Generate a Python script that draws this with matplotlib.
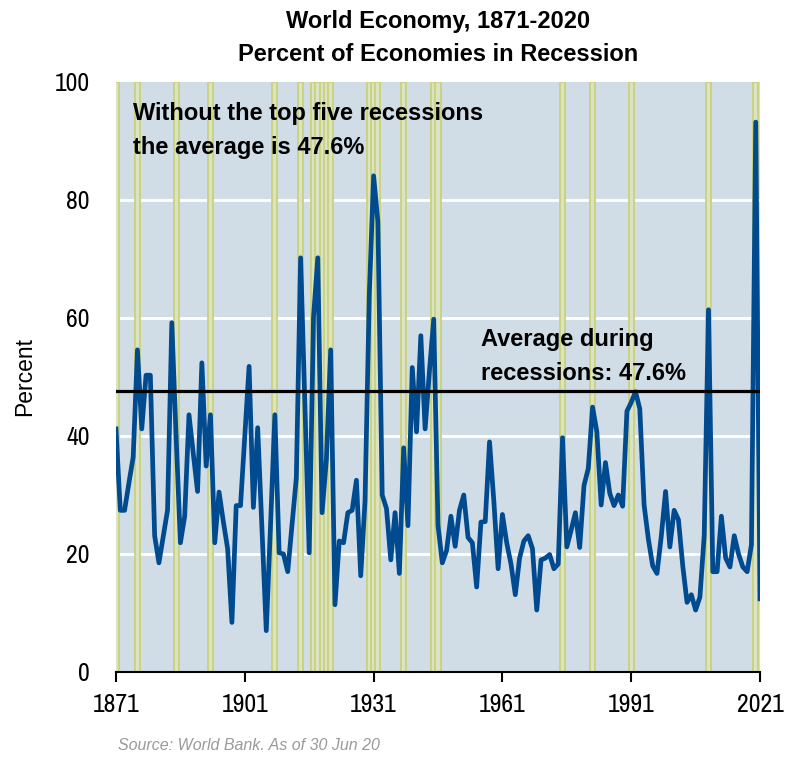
import matplotlib
matplotlib.use("Agg")
import matplotlib.pyplot as plt
import numpy as np

plt.rcParams['font.family'] = ['Liberation Sans', 'DejaVu Sans']
NARROW = ['Archivo Narrow', 'Liberation Sans', 'DejaVu Sans']

# Share of economies in recession, 1871-2021 (percent)
years = np.arange(1871, 2022)
pct_in_recession = [
    41.2, 27.4, 27.4, 32.0, 36.4, 54.6, 41.2, 50.3, 50.3, 23.1,   # 1871-1880
    18.5, 23.0, 27.4, 59.2, 40.0, 21.9, 26.4, 43.6, 37.0, 30.6,   # 1881-1890
    52.4, 34.9, 43.6, 21.9, 30.5, 25.5, 20.9, 8.4, 28.2, 28.2,    # 1891-1900
    40.0, 51.8, 27.9, 41.4, 24.0, 7.0, 25.0, 43.6, 20.2, 20.0,    # 1901-1910
    17.0, 25.0, 32.9, 70.2, 45.0, 20.2, 60.1, 70.2, 27.0, 36.0,   # 1911-1920
    54.6, 11.4, 22.2, 21.9, 27.0, 27.4, 32.5, 16.3, 29.0, 64.0,   # 1921-1930
    84.1, 76.3, 30.0, 27.7, 19.0, 27.0, 16.7, 38.0, 24.8, 51.6,   # 1931-1940
    40.7, 57.0, 41.2, 51.0, 59.8, 24.8, 18.5, 20.6, 26.4, 21.3,   # 1941-1950
    27.4, 30.0, 22.8, 21.9, 14.4, 25.4, 25.5, 39.0, 29.0, 17.5,   # 1951-1960
    26.7, 21.9, 18.3, 13.1, 19.3, 22.2, 23.1, 20.9, 10.5, 19.0,   # 1961-1970
    19.3, 19.9, 17.5, 18.3, 39.7, 21.2, 24.0, 27.0, 21.1, 31.6,   # 1971-1980
    34.5, 44.9, 40.7, 28.3, 35.5, 30.3, 28.2, 30.0, 28.1, 44.2,   # 1981-1990
    45.7, 47.5, 44.6, 28.3, 22.5, 18.0, 16.7, 23.0, 30.6, 21.2,   # 1991-2000
    27.4, 25.8, 18.0, 11.8, 13.1, 10.5, 12.7, 23.1, 61.4, 17.0,   # 2001-2010
    17.0, 26.4, 19.3, 17.8, 23.1, 20.0, 17.8, 17.0, 21.6, 93.2,   # 2011-2020
    12.4,                                                         # 2021
]

# global recession years (shaded)
recession_years = [1871, 1876, 1885, 1893, 1908, 1914, 1917, 1918, 1919, 1920,
                   1921, 1930, 1931, 1932, 1938, 1945, 1946, 1975, 1982, 1991,
                   2009, 2020]
avg_in_recessions = 47.6

xticks = [1871, 1901, 1931, 1961, 1991, 2021]
yticks = [0, 20, 40, 60, 80, 100]

fig = plt.figure(figsize=(7.88, 7.57), dpi=100)
ax = fig.add_axes([0.1472, 0.1123, 0.8173, 0.7794])
ax.set_facecolor('#d0dce6')

for yr in recession_years:
    ax.axvspan(yr - 0.6, yr + 0.6, facecolor='#dbe2c6', edgecolor='#c9d37f',
               linewidth=1.4, zorder=1)

for v in yticks[1:-1]:
    ax.axhline(v, color='white', linewidth=2, zorder=0.5)

ax.plot(years, pct_in_recession, color='#004a8f', linewidth=3.4,
        solid_joinstyle='round', zorder=3)
ax.axhline(avg_in_recessions, color='black', linewidth=2.3, zorder=4)

ax.set_xlim(1871, 2021)
ax.set_ylim(0, 100)
ax.set_xticks(xticks)
ax.set_yticks(yticks)
ax.tick_params(axis='x', direction='out', length=7, width=1.5, pad=8)
ax.tick_params(axis='y', length=0, pad=19)
for lbl in ax.get_xticklabels() + ax.get_yticklabels():
    lbl.set_family(NARROW)
    lbl.set_fontsize(18.5)
for s in ['left', 'right', 'top']:
    ax.spines[s].set_visible(False)
ax.spines['bottom'].set_linewidth(1.5)
ax.spines['bottom'].set_zorder(5)

ax.set_ylabel('Percent', fontsize=16.5, labelpad=13)

ax.text(0.5, 1.027, 'World Economy, 1871-2020\nPercent of Economies in Recession',
        transform=ax.transAxes, ha='center', va='bottom', fontsize=17,
        fontweight='bold', linespacing=1.55)

ax.text(0.026, 0.966, 'Without the top five recessions\nthe average is 47.6%',
        transform=ax.transAxes, ha='left', va='top', fontsize=17,
        fontweight='bold', linespacing=1.6, zorder=6)
ax.text(0.566, 0.583, 'Average during\nrecessions: 47.6%',
        transform=ax.transAxes, ha='left', va='top', fontsize=17,
        fontweight='bold', linespacing=1.6, zorder=6)

fig.text(118 / 788, 1 - 745 / 757, 'Source: World Bank. As of 30 Jun 20',
         ha='left', va='center', fontsize=11.5, style='italic', color='#9a9a9a')

fig.savefig('out.png', dpi=100)
